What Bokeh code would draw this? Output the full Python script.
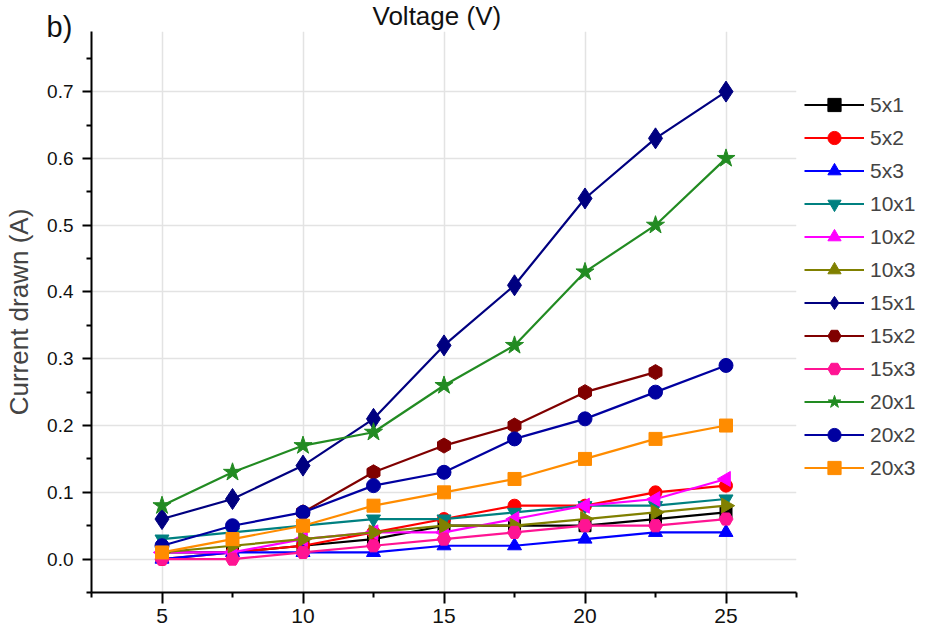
import math
from bokeh.plotting import figure
from bokeh.models import Legend, LegendItem, Title, FixedTicker, NumeralTickFormatter, Range1d
from bokeh.embed import file_html
from bokeh.resources import INLINE

NAN = float("nan")
voltage = [5, 7.5, 10, 12.5, 15, 17.5, 20, 22.5, 25]

s_5x1 = [0.01, 0.01, 0.02, 0.03, 0.05, 0.05, 0.05, 0.06, 0.07]
s_5x2 = [0.00, 0.01, 0.02, 0.04, 0.06, 0.08, 0.08, 0.10, 0.11]
s_5x3 = [0.00, 0.01, 0.01, 0.01, 0.02, 0.02, 0.03, 0.04, 0.04]
s_10x1 = [0.03, 0.04, 0.05, 0.06, 0.06, 0.07, 0.08, 0.08, 0.09]
s_10x2 = [0.01, 0.01, 0.03, 0.04, 0.04, 0.06, 0.08, 0.09, 0.12]
s_10x3 = [0.01, 0.02, 0.03, 0.04, 0.05, 0.05, 0.06, 0.07, 0.08]
s_15x1 = [0.06, 0.09, 0.14, 0.21, 0.32, 0.41, 0.54, 0.63, 0.70]
s_15x2 = [NAN, NAN, 0.07, 0.13, 0.17, 0.20, 0.25, 0.28, NAN]
s_15x3 = [0.00, 0.00, 0.01, 0.02, 0.03, 0.04, 0.05, 0.05, 0.06]
s_20x1 = [0.08, 0.13, 0.17, 0.19, 0.26, 0.32, 0.43, 0.50, 0.60]
s_20x2 = [0.02, 0.05, 0.07, 0.11, 0.13, 0.18, 0.21, 0.25, 0.29]
s_20x3 = [0.01, 0.03, 0.05, 0.08, 0.10, 0.12, 0.15, 0.18, 0.20]

names = ["5x1", "5x2", "5x3", "10x1", "10x2", "10x3", "15x1", "15x2", "15x3", "20x1", "20x2", "20x3"]
series = [s_5x1, s_5x2, s_5x3, s_10x1, s_10x2, s_10x3, s_15x1, s_15x2, s_15x3, s_20x1, s_20x2, s_20x3]
colors = ["#000000", "#ff0000", "#0000ff", "#008080", "#ff00ff", "#808000",
          "#000080", "#800000", "#ff1493", "#228b22", "#0000a0", "#ff8c00"]
markers = ["square", "circle", "triangle", "inverted_triangle", "triangle", "triangle",
           "diamond", "hex", "hex", "star", "circle", "square"]
angles = [0, 0, 0, 0, math.pi / 2, -math.pi / 2, 0, math.pi / 2, 0, 0, 0, 0]
sizes = [12, 13, 14, 14, 15, 15, 21, 15, 14, 19, 14, 13]

x_ticks = [5, 10, 15, 20, 25]
y_ticks = [0.0, 0.1, 0.2, 0.3, 0.4, 0.5, 0.6, 0.7]

FONT = "Liberation Sans"

p = figure(frame_width=705, frame_height=561, output_backend="svg", toolbar_location=None,
           x_range=Range1d(2.5, 27.5), y_range=Range1d(-0.05, 0.79),
           min_border_left=91, min_border_right=140, min_border_top=31, min_border_bottom=41)
p.outline_line_color = None
p.background_fill_color = "white"
p.border_fill_color = "white"

for ax in (p.xaxis[0], p.yaxis[0]):
    ax.axis_line_width = 2
    ax.major_tick_line_width = 2
    ax.minor_tick_line_width = 2
    ax.major_tick_in = 0
    ax.major_tick_out = 9
    ax.minor_tick_in = 0
    ax.minor_tick_out = 5
    ax.major_label_text_font = FONT
    ax.major_label_text_font_size = "19px"
    ax.major_label_text_color = "#111111"

p.xaxis[0].major_tick_out = 11
p.xaxis[0].major_label_text_font_size = "21px"
p.xaxis[0].ticker = FixedTicker(ticks=x_ticks, minor_ticks=[2.5, 7.5, 12.5, 17.5, 22.5, 27.5])
p.yaxis[0].ticker = FixedTicker(ticks=y_ticks, minor_ticks=[-0.05, 0.05, 0.15, 0.25, 0.35, 0.45, 0.55, 0.65, 0.75])
p.yaxis[0].formatter = NumeralTickFormatter(format="0.0")
p.xaxis[0].major_label_standoff = 5
p.yaxis[0].major_label_standoff = 9
p.yaxis[0].axis_label = "Current drawn (A)"
p.yaxis[0].axis_label_text_font = FONT
p.yaxis[0].axis_label_text_font_style = "normal"
p.yaxis[0].axis_label_text_font_size = "26px"
p.yaxis[0].axis_label_standoff = 10

p.xgrid.grid_line_color = "#e3e3e3"
p.ygrid.grid_line_color = "#e3e3e3"
p.xgrid.grid_line_width = 1.5
p.ygrid.grid_line_width = 1.5

items = []
for name, ys, c, m, a, s in zip(names, series, colors, markers, angles, sizes):
    r_line = p.line(voltage, ys, line_color=c, line_width=2.2)
    r_pt = p.scatter(voltage, ys, marker=m, angle=a, size=s, fill_color=c, line_color=c)
    items.append(LegendItem(label=name, renderers=[r_line, r_pt]))

legend = Legend(items=items, location="top_left", padding=9, margin=8,
                title=" ", title_text_font_size="21px", title_standoff=25,
                glyph_width=60, glyph_height=33, label_height=33, spacing=0,
                label_standoff=6, label_text_font=FONT, label_text_font_size="21px",
                border_line_color=None, background_fill_alpha=0)
p.add_layout(legend, "right")

p.add_layout(Title(text="b)", align="left", offset=-45, standoff=-22,
                   text_font=FONT, text_font_size="29px", text_font_style="normal",
                   text_color="#111111"), "above")
p.add_layout(Title(text="Voltage (V)", align="left", offset=281, standoff=-22,
                   text_font=FONT, text_font_size="26px", text_font_style="normal",
                   text_color="#111111"), "above")

open("out.html", "w").write(file_html(p, INLINE))
